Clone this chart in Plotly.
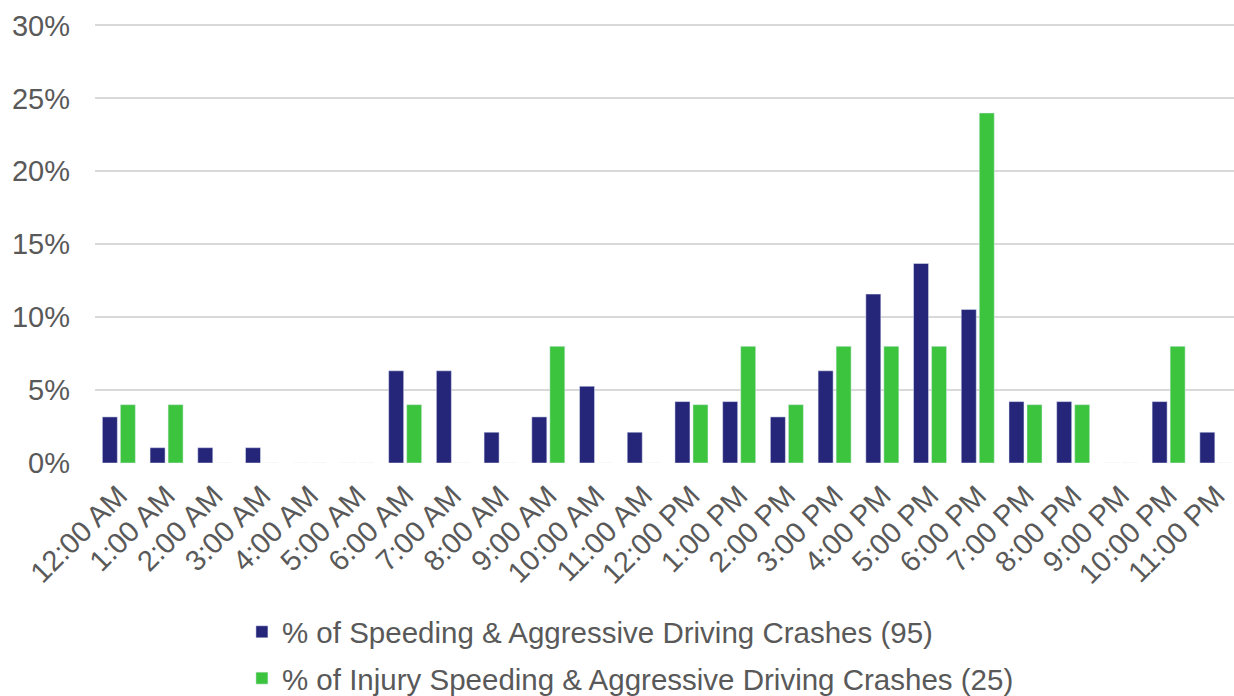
import plotly.graph_objects as go

hours = ["12:00 AM", "1:00 AM", "2:00 AM", "3:00 AM", "4:00 AM", "5:00 AM",
         "6:00 AM", "7:00 AM", "8:00 AM", "9:00 AM", "10:00 AM", "11:00 AM",
         "12:00 PM", "1:00 PM", "2:00 PM", "3:00 PM", "4:00 PM", "5:00 PM",
         "6:00 PM", "7:00 PM", "8:00 PM", "9:00 PM", "10:00 PM", "11:00 PM"]

# percent of speeding & aggressive driving crashes (95 total)
speeding = [3.16, 1.05, 1.05, 1.05, 0, 0,
            6.32, 6.32, 2.11, 3.16, 5.26, 2.11,
            4.21, 4.21, 3.16, 6.32, 11.58, 13.68,
            10.53, 4.21, 4.21, 0, 4.21, 2.11]

# percent of injury speeding & aggressive driving crashes (25 total)
injury = [4, 4, 0, 0, 0, 0,
          4, 0, 0, 8, 0, 0,
          4, 8, 4, 8, 8, 8,
          24, 4, 4, 0, 8, 0]

y_ticks = [0, 5, 10, 15, 20, 25, 30]
y_labels = ["0%", "5%", "10%", "15%", "20%", "25%", "30%"]

name_s = "% of Speeding & Aggressive Driving Crashes (95)"
name_i = "% of Injury Speeding & Aggressive Driving Crashes (25)"

FONT = "Liberation Sans, Arial, sans-serif"
GRAY = "#595959"

fig = go.Figure()
fig.add_trace(go.Bar(x=hours, y=speeding, name=name_s, marker_color="#25257A",
                     legendgroup="a"))
fig.add_trace(go.Bar(x=hours, y=injury, name=name_i, marker_color="#3DC43F",
                     legendgroup="b"))

fig.update_layout(
    width=1234, height=696,
    margin=dict(l=95, r=0, t=24, b=233, autoexpand=False),
    paper_bgcolor="white", plot_bgcolor="white",
    barmode="group", bargap=0.245, bargroupgap=0.167,
    font=dict(family=FONT, color=GRAY, size=29),
    showlegend=True,
    legend=dict(orientation="v", x=0.129, xanchor="left", y=-0.326, yanchor="top",
                font=dict(size=29.5, color=GRAY, family=FONT),
                tracegroupgap=5, bgcolor="rgba(0,0,0,0)"),
    xaxis=dict(type="category", categoryorder="array", categoryarray=hours,
               range=[-0.5, 23.37], tickangle=-45, showgrid=False, zeroline=False,
               showline=False, ticks="", automargin=False,
               tickfont=dict(size=29, color=GRAY, family=FONT),
               ticklabelstandoff=9),
    yaxis=dict(range=[0, 30.1], tickvals=y_ticks, ticktext=y_labels,
               showgrid=True, gridcolor="#D9D9D9", gridwidth=1.5,
               zeroline=False, showline=False, ticks="", automargin=False,
               tickfont=dict(size=29, color=GRAY, family=FONT),
               ticklabelstandoff=24),
)

fig.write_html("out.html", config={"displayModeBar": False},
               post_script="document.body.style.margin='0';document.body.style.overflow='hidden';")
